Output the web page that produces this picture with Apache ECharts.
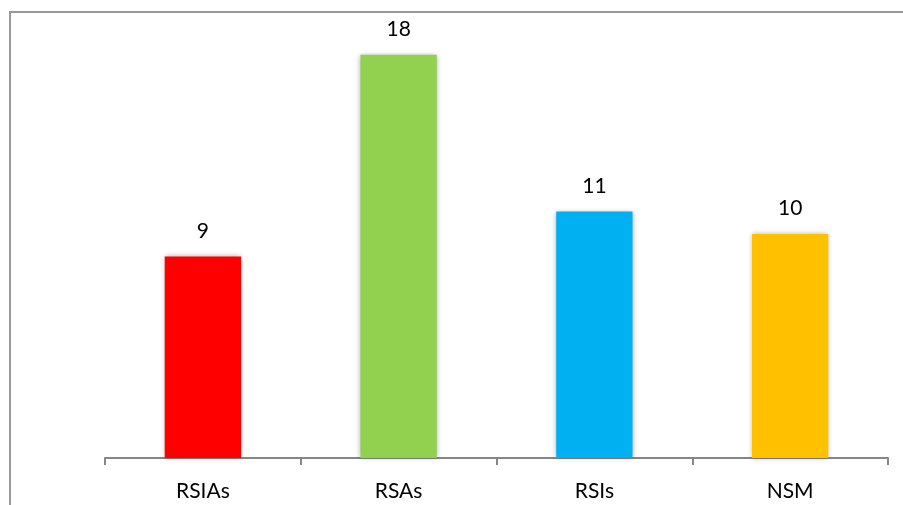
<!DOCTYPE html>
<html><head><meta charset="utf-8">
<script src="https://cdn.jsdelivr.net/npm/echarts@6/dist/echarts.min.js"></script>
<style>html,body{margin:0;padding:0;background:#fff}#c{width:903px;height:505px}</style>
</head><body><div id="c"></div>
<script>
const categories = ['RSIAs', 'RSAs', 'RSIs', 'NSM'];
const values = [9, 18, 11, 10];
const colors = ['#FF0000', '#92D050', '#00B0F0', '#FFC000'];

const chart = echarts.init(document.getElementById('c'));
chart.setOption({
  animation: false,
  graphic: [{
    type: 'rect', shape: {x: 10, y: 12, width: 905, height: 505},
    style: {fill: 'none', stroke: '#999', lineWidth: 2}
  }],
  grid: {left: 105, right: 15, top: 10, bottom: 47},
  xAxis: {
    type: 'category', data: categories,
    axisLine: {lineStyle: {color: '#868686', width: 2}},
    axisTick: {show: true, length: 7, lineStyle: {color: '#868686', width: 2}},
    axisLabel: {color: '#000', fontSize: 21, fontFamily: 'Lato', margin: 23}
  },
  yAxis: {type: 'value', min: 0, max: 20, show: false, splitLine: {show: false}},
  series: [{
    type: 'bar', barWidth: '39%',
    data: values.map((v, i) => ({value: v, itemStyle: {color: colors[i]}})),
    itemStyle: {shadowBlur: 5, shadowColor: 'rgba(0,0,0,0.3)'},
    label: {show: true, position: 'top', distance: 15, color: '#000', fontSize: 21, fontFamily: 'Lato'}
  }]
});
</script></body></html>
